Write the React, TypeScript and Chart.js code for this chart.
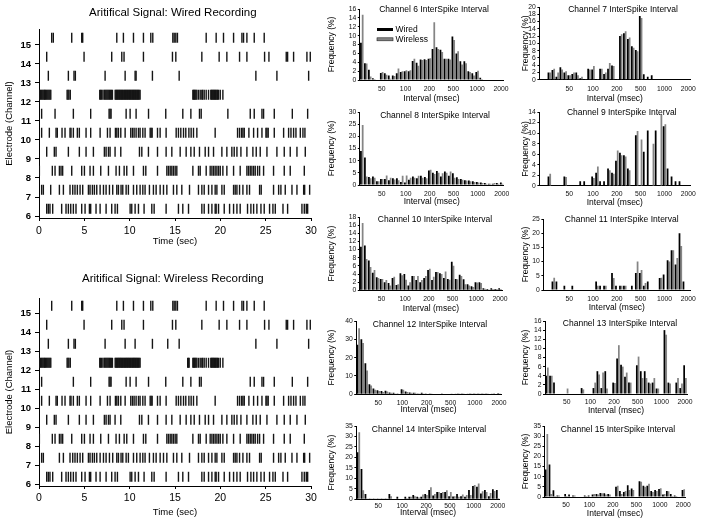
import React, { useEffect, useRef } from 'react';
import { Chart, registerables } from 'chart.js';

Chart.register(...registerables);

const FONT = "'Liberation Sans', Arial, Helvetica, sans-serif";
Chart.defaults.font.family = FONT;
Chart.defaults.color = '#000';

// ---------------- Raster data (spike times, sec) ----------------
const CHANNELS = [6, 7, 8, 9, 10, 11, 12, 13, 14, 15];

const WIRED_CH6 = [0.85, 1.03, 1.21, 1.51, 2.5, 2.98, 3.24, 3.5, 3.79, 4.08, 4.71, 5.08, 5.56, 5.7, 6.29, 6.74, 7.4, 8.02, 8.39, 8.65, 10.05, 10.23, 10.6, 10.97, 11.59, 12.44, 12.7, 14.02, 15.38, 15.86, 16.49, 17.96, 18.22, 18.7, 19.07, 19.43, 19.54, 19.8, 20.43, 21.02, 21.46, 21.83, 22.19, 23.0, 23.37, 23.67, 24.03, 24.48, 24.84, 25.43, 25.8, 26.06, 26.91, 27.42, 29.0, 29.26, 29.48, 29.63];
const WIRED_CH7 = [0.29, 0.48, 1.29, 2.25, 2.69, 3.42, 3.72, 3.97, 4.23, 4.53, 4.82, 5.45, 5.63, 5.89, 6.11, 6.37, 6.74, 7.11, 7.4, 7.77, 8.13, 8.58, 8.76, 9.05, 9.24, 9.61, 9.86, 10.42, 10.78, 11.15, 11.45, 11.7, 12.18, 12.62, 12.92, 13.36, 13.73, 14.1, 14.83, 15.2, 15.75, 16.6, 17.59, 17.96, 18.22, 18.7, 19.07, 19.43, 19.62, 20.17, 20.43, 21.46, 21.64, 21.83, 22.12, 22.49, 22.93, 23.22, 24.33, 24.51, 25.87, 26.43, 26.68, 27.16, 27.9, 28.45, 29.19, 29.3, 29.85];
const WIRELESS_CH7 = [0.29, 0.48, 2.25, 2.69, 3.42, 3.72, 3.97, 4.23, 4.53, 4.82, 5.45, 5.63, 5.89, 6.11, 6.37, 6.74, 7.11, 7.4, 7.77, 8.13, 8.58, 8.76, 9.05, 9.24, 9.61, 9.86, 10.42, 10.78, 11.15, 11.45, 11.7, 12.18, 12.62, 12.92, 13.36, 13.73, 14.1, 14.83, 15.2, 15.75, 16.6, 17.59, 17.96, 18.22, 18.7, 19.07, 19.43, 19.62, 20.17, 20.43, 21.46, 21.64, 21.83, 22.12, 22.49, 22.93, 23.22, 24.33, 24.51, 25.87, 26.43, 26.68, 27.16, 27.9, 28.45, 29.19, 29.3, 29.85];
const WIRED_CH8 = [0.04, 1.47, 1.77, 2.25, 2.43, 2.61, 3.61, 4.71, 5.01, 5.63, 6.0, 6.81, 7.66, 8.5, 8.87, 9.39, 9.68, 10.42, 11.52, 11.78, 13.07, 14.1, 14.28, 14.47, 14.65, 14.83, 15.02, 15.2, 16.97, 17.59, 17.78, 18.44, 18.88, 19.07, 19.25, 19.43, 19.62, 19.8, 19.99, 20.28, 20.72, 21.46, 22.19, 22.93, 23.11, 23.3, 23.48, 23.67, 23.85, 24.11, 24.33, 24.77, 25.87, 27.05, 27.71, 29.26];
const WIRED_CH9 = [0.85, 1.69, 1.88, 3.24, 4.45, 5.19, 6.0, 7.21, 7.4, 7.66, 7.84, 8.39, 9.02, 11.08, 11.34, 12.07, 13.07, 14.02, 14.65, 15.57, 16.23, 16.75, 17.12, 17.7, 18.33, 18.7, 19.25, 20.17, 20.72, 21.27, 21.53, 21.83, 22.27, 22.93, 23.59, 23.96, 24.4, 25.14, 26.24, 27.05, 27.71, 28.45, 29.37];
const WIRED_CH10 = [0.29, 1.14, 1.88, 2.02, 2.54, 2.87, 3.42, 3.53, 3.79, 4.23, 4.45, 5.19, 5.7, 6.74, 7.55, 7.84, 8.43, 8.58, 8.76, 9.02, 9.5, 10.12, 10.31, 10.49, 10.71, 10.97, 11.15, 11.45, 11.7, 12.26, 12.37, 12.48, 13.07, 13.36, 14.02, 15.13, 15.38, 15.64, 15.94, 16.19, 16.53, 16.78, 17.04, 17.41, 19.43, 21.9, 22.12, 22.34, 22.49, 22.64, 23.15, 23.67, 24.11, 24.59, 25.03, 25.14, 25.28, 25.95, 26.98, 27.53, 27.79, 28.08, 28.34, 28.82, 29.11, 29.33];
const WIRED_CH11 = [0.29, 1.77, 3.79, 5.7, 7.73, 7.84, 7.95, 9.61, 10.05, 10.71, 12.08, 13.98, 15.86, 16.75, 17.7, 17.89, 20.83, 23.3, 23.74, 24.59, 24.77, 25.95, 27.94, 29.63];
const WIRELESS_CH11 = [0.29, 3.79, 5.7, 7.73, 7.84, 7.95, 9.61, 10.05, 10.71, 12.08, 13.98, 15.86, 16.75, 17.7, 17.89, 23.3, 23.74, 24.59, 24.77, 25.95, 27.94, 29.63];
const WIRED_CH12 = [0.05, 0.15, 0.25, 0.35, 0.45, 0.55, 0.62, 0.7, 0.8, 0.9, 1.0, 1.1, 1.2, 1.3, 3.1, 3.2, 3.3, 3.45, 6.7, 6.8, 6.9, 7.05, 7.2, 7.3, 7.4, 7.5, 7.6, 7.7, 7.8, 7.9, 8.0, 8.1, 8.4, 8.48, 8.56, 8.64, 8.72, 8.8, 8.88, 8.96, 9.04, 9.12, 9.2, 9.28, 9.36, 9.44, 9.52, 9.6, 9.68, 9.76, 9.84, 9.92, 10.0, 10.08, 10.16, 10.24, 10.32, 10.4, 10.48, 10.56, 10.64, 10.72, 10.8, 10.88, 10.96, 11.05, 11.15, 16.97, 17.05, 17.13, 17.21, 17.3, 17.41, 17.59, 17.78, 17.96, 18.05, 18.22, 18.44, 18.7, 18.95, 19.03, 19.11, 19.2, 19.28, 19.36, 19.45, 19.53, 19.62, 19.7, 19.8, 19.99, 20.28];
const WIRELESS_CH12 = [0.05, 0.15, 0.25, 0.35, 0.45, 0.55, 0.62, 0.7, 0.8, 0.9, 1.0, 1.1, 1.2, 1.3, 3.1, 3.2, 3.3, 3.45, 6.7, 6.8, 6.9, 7.05, 7.2, 7.3, 7.4, 7.5, 7.6, 7.7, 7.8, 7.9, 8.0, 8.1, 8.4, 8.48, 8.56, 8.64, 8.72, 8.8, 8.88, 8.96, 9.04, 9.12, 9.2, 9.28, 9.36, 9.44, 9.52, 9.6, 9.68, 9.76, 9.84, 9.92, 10.0, 10.08, 10.16, 10.24, 10.32, 10.4, 10.48, 10.56, 10.64, 10.72, 10.8, 10.88, 10.96, 11.05, 11.15, 16.4, 16.48, 16.56, 16.97, 17.05, 17.13, 17.21, 17.3, 17.41, 17.59, 17.78, 17.96, 18.05, 18.22, 18.44, 18.7, 18.95, 19.03, 19.11, 19.2, 19.28, 19.36, 19.45, 19.53, 19.62, 19.7, 19.8, 19.99, 20.28];
const WIRED_CH13 = [1.03, 3.24, 3.86, 4.01, 7.29, 9.5, 10.6, 10.71, 12.51, 15.46, 23.92, 26.24, 29.74];
const WIRELESS_CH13 = [1.03, 3.24, 3.86, 4.01, 7.29, 9.5, 10.6, 12.51, 14.2, 15.46, 23.92, 26.24, 29.74];
const WIRED_CH14 = [0.85, 4.97, 8.02, 9.13, 9.38, 11.52, 14.72, 15.09, 17.96, 19.87, 20.72, 22.12, 22.93, 24.88, 25.36, 27.27, 27.42, 28.08, 29.55, 29.92];
const WIRED_CH15 = [1.4, 1.58, 3.61, 4.71, 4.82, 8.58, 9.31, 10.42, 11.52, 12.33, 12.55, 14.76, 14.91, 15.09, 15.27, 18.44, 19.54, 20.35, 21.46, 22.38, 22.56, 22.93, 23.74, 24.84];
const WIRELESS_CH15 = [1.4, 3.61, 4.71, 4.82, 8.58, 9.31, 10.42, 11.52, 12.33, 12.55, 14.76, 14.91, 15.09, 15.27, 18.44, 19.54, 20.35, 21.46, 22.38, 22.56, 22.93, 23.74, 24.84];

const WIRED_SPIKES = [WIRED_CH6, WIRED_CH7, WIRED_CH8, WIRED_CH9, WIRED_CH10, WIRED_CH11, WIRED_CH12, WIRED_CH13, WIRED_CH14, WIRED_CH15];
const WIRELESS_SPIKES = [WIRED_CH6, WIRELESS_CH7, WIRED_CH8, WIRED_CH9, WIRED_CH10, WIRELESS_CH11, WIRELESS_CH12, WIRELESS_CH13, WIRED_CH14, WIRELESS_CH15];

// ---------------- ISI histogram data (frequency %) ----------------
const ISI_BIN_LABELS = ['', '', '', '', '', '', '', '50', '', '', '', '', '', '100', '', '', '', '', '', '200', '', '', '', '', '', '500', '', '', '', '', '', '1000', '', '', '', '', '', '2000'];

const CH6_WIRED = [8.4, 3.8, 2.3, 0.4, 0.1, 1.6, 1.5, 1.0, 1.0, 1.5, 1.8, 2.0, 2.0, 4.3, 3.9, 4.6, 4.7, 4.8, 7.0, 7.4, 6.8, 4.8, 4.8, 9.8, 6.0, 4.2, 4.2, 2.0, 1.5, 1.8, 0.5, 0.1, 0.1, 0.1, 0.1, 0.1];
const CH6_WIRELESS = [14.7, 3.7, 0.8, 0.2, 0.1, 1.8, 1.2, 0.3, 0.9, 2.6, 2.0, 2.2, 2.2, 4.8, 3.2, 4.5, 4.5, 4.9, 13.0, 7.0, 6.3, 4.8, 4.6, 9.0, 6.5, 3.5, 3.8, 1.8, 1.0, 2.1, 0.2, 0.1, 0.1, 0.0, 0.1, 0.0];
const CH7_WIRED = [0, 0, 2.0, 2.7, 0.8, 3.4, 2.0, 1.2, 1.6, 2.0, 0.4, 0.2, 3.0, 2.8, 0.2, 3.0, 1.6, 3.0, 3.9, 0.2, 12.0, 12.8, 11.2, 9.2, 8.2, 17.5, 1.5, 0.8, 1.2, 0.1, 0.1, 0.1, 0.1, 0.1, 0.1, 0.1, 0.1, 0.1];
const CH7_WIRELESS = [0, 0, 2.0, 3.0, 2.0, 2.8, 2.3, 1.2, 2.0, 1.2, 0.8, 0.2, 2.8, 3.8, 0.2, 3.0, 2.0, 4.6, 3.8, 0.2, 12.5, 13.3, 11.6, 8.8, 7.8, 17.0, 0.1, 0.1, 0.1, 0.1, 0.1, 0.1, 0.1, 0.1, 0.1, 0.1, 0.1, 0.1];
const CH8_WIRED = [14.0, 11.3, 3.3, 3.5, 1.5, 2.5, 2.5, 2.0, 2.8, 2.8, 1.2, 1.0, 2.2, 3.5, 2.8, 3.8, 3.3, 6.0, 5.0, 5.8, 3.5, 5.5, 3.8, 4.8, 3.2, 2.5, 2.0, 1.8, 1.5, 1.2, 1.0, 0.8, 0.5, 0.5, 0.8, 1.0];
const CH8_WIRELESS = [24.7, 3.5, 2.8, 3.0, 1.5, 2.5, 3.9, 3.0, 2.3, 2.0, 3.8, 3.9, 3.0, 3.0, 3.8, 3.0, 2.8, 6.3, 4.5, 5.0, 4.8, 5.0, 5.5, 3.0, 2.5, 2.2, 1.8, 1.5, 1.2, 1.0, 0.8, 0.5, 0.5, 0.8, 0.5, 0.5];
const CH9_WIRED = [0, 0, 1.8, 0, 0, 0, 1.8, 0, 0, 0, 0.9, 0.9, 0, 1.8, 2.5, 0.9, 0.9, 3.3, 2.5, 4.8, 6.3, 5.8, 3.3, 0, 9.6, 0, 6.5, 10.5, 0, 10.5, 0, 11.3, 3.3, 1.8, 0.9, 0.9, 0, 0];
const CH9_WIRELESS = [0, 0, 2.3, 0, 0, 0, 1.7, 0, 0, 0, 0, 0, 0, 1.5, 3.7, 0, 0, 3.0, 2.3, 6.7, 5.8, 5.6, 3.0, 0, 10.4, 8.8, 0, 0, 8.0, 0, 13.5, 11.7, 0, 0, 0, 0, 0, 0];
const CH10_WIRED = [10.7, 11.0, 7.3, 4.3, 3.2, 2.8, 2.0, 1.8, 3.0, 1.3, 4.2, 4.0, 1.2, 3.5, 2.5, 2.0, 3.0, 5.0, 2.5, 4.5, 4.2, 3.0, 2.8, 7.0, 2.8, 3.8, 2.7, 1.5, 1.0, 2.0, 2.0, 0.5, 0.3, 0.5, 0.3, 0.5];
const CH10_WIRELESS = [16.5, 7.7, 5.7, 5.0, 3.0, 2.8, 2.5, 1.2, 3.3, 1.5, 3.7, 2.6, 2.0, 3.5, 3.5, 2.5, 3.5, 5.3, 3.3, 4.5, 4.0, 4.6, 2.6, 6.0, 2.7, 3.5, 1.5, 1.2, 0.8, 1.9, 1.8, 0.4, 0.2, 0.3, 0.3, 0.3];
const CH11_WIRED = [0, 0, 3.0, 3.0, 0, 1.5, 0, 1.5, 0, 0, 0, 0, 0, 3.0, 1.5, 1.5, 0, 6.0, 1.5, 1.5, 1.5, 0, 1.5, 6.0, 6.0, 1.5, 3.0, 0, 0, 4.2, 5.5, 10.5, 14.0, 9.0, 20.0, 3.0, 0];
const CH11_WIRELESS = [0, 0, 4.3, 0, 0, 0, 0, 0, 0, 0, 0, 0, 0, 1.5, 0, 1.5, 0, 4.2, 0, 1.5, 1.5, 0, 0, 10.0, 7.0, 2.5, 0, 0, 0, 4.3, 0, 10.0, 14.0, 11.3, 15.5, 0, 0];
const CH12_WIRED = [27, 30, 17, 5.5, 3.2, 2.2, 1.8, 2.0, 1.0, 0.8, 0.5, 2.8, 1.5, 1.0, 0.8, 0.5, 0.8, 0.5, 0.5, 0.3, 0.3, 0.5, 0.3, 0.3, 0.3, 0.2, 0.2, 0.3, 0.2, 0.2, 0.2, 0.2, 0.2, 0.3, 0.5, 0.6];
const CH12_WIRELESS = [36, 28, 13, 4.8, 2.5, 1.8, 1.2, 1.5, 0.8, 0.5, 0.3, 2.5, 1.2, 0.8, 0.8, 0.5, 0.5, 0.3, 0.5, 0.3, 0.3, 0.3, 0.3, 0.2, 0.2, 0.2, 0.2, 0.2, 0.2, 0.2, 0.2, 0.2, 0.2, 0.2, 0.3, 0.5];
const CH13_WIRED = [4.0, 4.0, 2.5, 0, 0, 0, 0, 0, 0, 1.3, 0, 0, 1.3, 5.0, 1.3, 5.0, 0, 2.5, 7.8, 6.4, 3.8, 2.5, 0, 6.3, 5.0, 5.0, 2.5, 2.5, 1.2, 0, 14.0, 2.5, 0, 2.5, 1.3, 6.3];
const CH13_WIRELESS = [5.8, 4.0, 0, 0, 0, 1.2, 0, 0, 0, 1.0, 0, 0, 2.5, 4.3, 4.7, 1.2, 0, 2.4, 10.7, 6.0, 4.7, 2.5, 0, 8.2, 3.5, 3.5, 2.3, 3.5, 1.2, 0, 13.0, 2.3, 0, 3.5, 2.3, 3.5];
const CH14_WIRED = [22.5, 14.5, 2.5, 0.2, 0.2, 0.2, 0.2, 0.2, 2.5, 0, 1.2, 0, 1.2, 1.2, 2.0, 1.2, 1.2, 2.5, 4.5, 1.8, 3.5, 3.0, 3.5, 1.5, 1.3, 2.5, 1.5, 1.2, 4.5, 6.3, 6.0, 2.8, 4.5, 1.5, 4.8, 4.5];
const CH14_WIRELESS = [32.0, 4.3, 0.2, 0.2, 0.2, 0.2, 0.2, 0.2, 1.5, 0, 0.3, 0, 0.5, 1.2, 1.5, 0.8, 2.3, 2.0, 5.8, 2.5, 3.5, 3.5, 4.3, 3.5, 1.5, 1.2, 2.3, 2.0, 2.0, 6.8, 7.6, 3.8, 3.5, 3.0, 4.0, 0.5];
const CH15_WIRED = [13.5, 16.0, 3.3, 0.8, 0, 1.5, 1.2, 0.8, 0, 0, 0.8, 0.8, 1.2, 1.5, 2.0, 1.8, 1.5, 0, 5.0, 3.0, 2.5, 5.8, 4.2, 0, 7.8, 5.5, 5.5, 3.0, 3.5, 4.0, 1.2, 3.0, 1.5, 0.8, 0, 3.5];
const CH15_WIRELESS = [31.0, 1.5, 0.5, 0.8, 0, 0.5, 0, 0.8, 0, 0, 0.5, 0, 1.5, 1.2, 1.8, 1.2, 1.2, 0, 5.5, 1.5, 3.0, 3.5, 3.5, 0, 7.5, 5.0, 6.5, 2.5, 3.0, 4.3, 1.5, 2.8, 0.5, 0.5, 0, 3.8];

// ---------------- helpers ----------------
type TextItem = { text: string; x: number; y: number; size: number; align?: CanvasTextAlign; weight?: string };

function textPlugin(items: TextItem[], extra?: (ctx: CanvasRenderingContext2D) => void) {
  return {
    id: 'extraTexts',
    afterDraw(chart: any) {
      const ctx: CanvasRenderingContext2D = chart.ctx;
      ctx.save();
      ctx.fillStyle = '#000';
      ctx.textBaseline = 'middle';
      for (const it of items) {
        ctx.font = `${it.weight || 'normal'} ${it.size}px ${FONT}`;
        ctx.textAlign = it.align || 'center';
        ctx.fillText(it.text, it.x, it.y);
      }
      if (extra) extra(ctx);
      ctx.restore();
    },
  };
}

function ChartCanvas({ left, top, width, height, make }: { left: number; top: number; width: number; height: number; make: () => any }) {
  const ref = useRef<HTMLCanvasElement>(null);
  useEffect(() => {
    const chart = new Chart(ref.current as HTMLCanvasElement, make());
    return () => chart.destroy();
  }, []);
  return <canvas ref={ref} width={width} height={height} style={{ position: 'absolute', left, top, width, height }} />;
}

// ---------------- raster ----------------
type RasterSpec = {
  title: string; spikes: number[][]; top: number; height: number;
  areaTop: number; areaBottom: number; yMax: number; titleY: number; xLabelDy: number; xTitlePad: number;
};

const RASTER_LEFT_AXIS = 39;
const RASTER_WIDTH = 330;
const RASTER_RIGHT = 311;

function rasterConfig(s: RasterSpec) {
  const datasets = CHANNELS.map((ch, k) => ({
    label: 'Ch ' + ch,
    data: s.spikes[k].map((t) => ({ x: t, y: ch + 0.38 })),
    pointStyle: 'line',
    rotation: 90,
    radius: 5,
    pointHoverRadius: 5,
    borderColor: '#151515',
    backgroundColor: '#151515',
    borderWidth: 1.4,
    showLine: false,
  }));
  return {
    type: 'scatter',
    data: { datasets },
    options: {
      responsive: false,
      animation: false,
      events: [],
      layout: { padding: { left: 0, top: s.areaTop, right: RASTER_WIDTH - RASTER_RIGHT, bottom: 0 } },
      plugins: { legend: { display: false }, tooltip: { enabled: false }, title: { display: false } },
      scales: {
        x: {
          type: 'linear', min: 0, max: 30,
          ticks: { stepSize: 5, font: { size: 10.5, lineHeight: `${2 * s.xLabelDy}px` }, padding: 0, color: '#000', maxRotation: 0 },
          grid: { drawOnChartArea: false, tickLength: 3, color: '#000' },
          border: { color: '#000', width: 1 },
          title: { display: true, text: 'Time (sec)', font: { size: 9.5 }, color: '#000', padding: { top: 0, bottom: s.xTitlePad } },
          afterFit: (sc: any) => { sc.height = s.height - s.areaBottom; },
        },
        y: {
          type: 'linear', min: 5.895, max: s.yMax,
          afterBuildTicks: (sc: any) => { sc.ticks = CHANNELS.map((v) => ({ value: v })); },
          ticks: { font: { size: 9.5, weight: 'bold' }, padding: 4, color: '#000', autoSkip: false },
          grid: { drawOnChartArea: false, tickLength: 4, color: '#000' },
          border: { color: '#000', width: 1 },
          title: { display: true, text: 'Electrode (Channel)', font: { size: 9.5 }, color: '#000', padding: { top: 3.4, bottom: 0 } },
          afterFit: (sc: any) => { sc.width = RASTER_LEFT_AXIS; },
        },
      },
    },
    plugins: [textPlugin([{ text: s.title, x: 172.8, y: s.titleY, size: 11.5 }])],
  };
}

const RASTERS: RasterSpec[] = [
  { title: 'Aritifical Signal: Wired Recording', spikes: WIRED_SPIKES, top: 0, height: 250, areaTop: 29, areaBottom: 218, yMax: 15.84, titleY: 13.3, xLabelDy: 9.8, xTitlePad: 3.0 },
  { title: 'Aritifical Signal: Wireless Recording', spikes: WIRELESS_SPIKES, top: 260, height: 264, areaTop: 38, areaBottom: 226, yMax: 15.79, titleY: 19, xLabelDy: 9, xTitlePad: 5.8 },
];

// ---------------- histograms ----------------
type HistSpec = {
  title: string; wired: number[]; wireless: number[]; yMax: number; yStep: number; colLeft: number;
  area: { left: number; right: number; top: number; bottom: number };
  titleX: number; titleY: number; labelDy: number; titleDy: number; legend?: boolean;
};

const HISTS: HistSpec[] = [
  { title: 'Channel 6 InterSpike Interval', wired: CH6_WIRED, wireless: CH6_WIRELESS, yMax: 16, yStep: 2, colLeft: 325, area: { left: 359.8, right: 503, top: 9, bottom: 80 }, titleX: 434, titleY: 9.5, labelDy: 9.3, titleDy: 19, legend: true },
  { title: 'Channel 7 InterSpike Interval', wired: CH7_WIRED, wireless: CH7_WIRELESS, yMax: 20, yStep: 2, colLeft: 519, area: { left: 539.4, right: 690.3, top: 7.3, bottom: 80 }, titleX: 623, titleY: 10, labelDy: 9.3, titleDy: 19 },
  { title: 'Channel 8 InterSpike Interval', wired: CH8_WIRED, wireless: CH8_WIRELESS, yMax: 30, yStep: 5, colLeft: 325, area: { left: 359.8, right: 503.7, top: 112.3, bottom: 185.3 }, titleX: 435, titleY: 115.7, labelDy: 8.7, titleDy: 17 },
  { title: 'Channel 9 InterSpike Interval', wired: CH9_WIRED, wireless: CH9_WIRELESS, yMax: 14, yStep: 2, colLeft: 519, area: { left: 539.4, right: 690.3, top: 111.7, bottom: 185.7 }, titleX: 621.7, titleY: 112.3, labelDy: 8.6, titleDy: 17.5 },
  { title: 'Channel 10 InterSpike Interval', wired: CH10_WIRED, wireless: CH10_WIRELESS, yMax: 18, yStep: 2, colLeft: 325, area: { left: 359.8, right: 502, top: 216.7, bottom: 290 }, titleX: 435, titleY: 219, labelDy: 9.3, titleDy: 18.3 },
  { title: 'Channel 11 InterSpike Interval', wired: CH11_WIRED, wireless: CH11_WIRELESS, yMax: 25, yStep: 5, colLeft: 519, area: { left: 543.4, right: 690.3, top: 219, bottom: 290 }, titleX: 621.7, titleY: 220, labelDy: 9, titleDy: 18 },
  { title: 'Channel 12 InterSpike Interval', wired: CH12_WIRED, wireless: CH12_WIRELESS, yMax: 40, yStep: 10, colLeft: 325, area: { left: 356.2, right: 501, top: 321, bottom: 394.3 }, titleX: 430, titleY: 325, labelDy: 8.4, titleDy: 15.7 },
  { title: 'Channel 13 InterSpike Interval', wired: CH13_WIRED, wireless: CH13_WIRELESS, yMax: 16, yStep: 2, colLeft: 519, area: { left: 545, right: 687, top: 321, bottom: 394 }, titleX: 620, titleY: 324, labelDy: 8.3, titleDy: 16.7 },
  { title: 'Channel 14 InterSpike Interval', wired: CH14_WIRED, wireless: CH14_WIRELESS, yMax: 35, yStep: 5, colLeft: 325, area: { left: 356.4, right: 499.7, top: 425.7, bottom: 499 }, titleX: 429, titleY: 429.3, labelDy: 6.5, titleDy: 13.7 },
  { title: 'Channel 15 InterSpike Interval', wired: CH15_WIRED, wireless: CH15_WIRELESS, yMax: 35, yStep: 5, colLeft: 519, area: { left: 544.5, right: 685.3, top: 425.7, bottom: 496.7 }, titleX: 618, titleY: 429, labelDy: 8.3, titleDy: 16.6 },
];

const WIRED_COLOR = '#000000';
const WIRELESS_COLOR = '#858585';
const TICK_FONT = 6.8;
const AXIS_TITLE_FONT = 8.5;

function histGeometry(h: HistSpec) {
  const left = h.colLeft;
  const top = h.area.top - 6;
  const width = Math.round(h.area.right + 12 - left);
  const height = Math.round(h.area.bottom + h.titleDy + 6 - top);
  return { left, top, width, height };
}

function histConfig(h: HistSpec) {
  const g = histGeometry(h);
  const labels = ISI_BIN_LABELS.slice(ISI_BIN_LABELS.length - h.wired.length);
  const texts: TextItem[] = [{ text: h.title, x: h.titleX - g.left, y: h.titleY - g.top, size: 8.5 }];
  let extra: ((ctx: CanvasRenderingContext2D) => void) | undefined;
  if (h.legend) {
    texts.push({ text: 'Wired', x: 395.5 - g.left, y: 29.5 - g.top, size: 8.5, align: 'left' });
    texts.push({ text: 'Wireless', x: 395.5 - g.left, y: 39.3 - g.top, size: 8.5, align: 'left' });
    extra = (ctx) => {
      ctx.fillStyle = WIRED_COLOR;
      ctx.fillRect(377 - g.left, 28 - g.top, 16, 3);
      ctx.fillStyle = WIRELESS_COLOR;
      ctx.fillRect(377 - g.left, 37.8 - g.top, 16, 3);
      ctx.strokeStyle = '#222';
      ctx.lineWidth = 0.6;
      ctx.strokeRect(377 - g.left, 37.8 - g.top, 16, 3);
    };
  }
  const xAxisH = g.height - (h.area.bottom - g.top);
  return {
    type: 'bar',
    data: {
      labels,
      datasets: [
        { label: 'Wired', data: h.wired, backgroundColor: WIRED_COLOR, barPercentage: 1.0, categoryPercentage: 0.88 },
        { label: 'Wireless', data: h.wireless, backgroundColor: WIRELESS_COLOR, barPercentage: 1.0, categoryPercentage: 0.88 },
      ],
    },
    options: {
      responsive: false,
      animation: false,
      events: [],
      layout: { padding: { left: 0, top: 6, right: g.width - (h.area.right - g.left), bottom: 0 } },
      plugins: { legend: { display: false }, tooltip: { enabled: false }, title: { display: false } },
      scales: {
        x: {
          type: 'category',
          ticks: { autoSkip: false, maxRotation: 0, minRotation: 0, font: { size: TICK_FONT, lineHeight: `${(2 * h.labelDy).toFixed(1)}px` }, color: '#111', padding: 0 },
          grid: { display: true, drawOnChartArea: false, drawTicks: false },
          border: { color: '#000', width: 1 },
          title: { display: true, text: 'Interval (msec)', font: { size: AXIS_TITLE_FONT }, color: '#000', padding: { top: 0, bottom: 0.9 } },
          afterFit: (sc: any) => { sc.height = xAxisH; },
        },
        y: {
          type: 'linear', min: 0, max: h.yMax,
          ticks: { stepSize: h.yStep, autoSkip: false, font: { size: TICK_FONT }, color: '#111', padding: 1.5 },
          grid: { drawOnChartArea: false, tickLength: 2, color: '#000' },
          border: { color: '#000', width: 1 },
          title: { display: true, text: 'Frequency (%)', font: { size: AXIS_TITLE_FONT }, color: '#000', padding: { top: 1.5, bottom: 0 } },
          afterFit: (sc: any) => { sc.width = h.area.left - g.left; },
        },
      },
    },
    plugins: [textPlugin(texts, extra)],
  };
}

export default function App() {
  return (
    <div style={{ position: 'absolute', left: 0, top: 0, width: 701, height: 524, background: '#fff', overflow: 'hidden' }}>
      {RASTERS.map((r, i) => (
        <ChartCanvas key={'r' + i} left={0} top={r.top} width={RASTER_WIDTH} height={r.height} make={() => rasterConfig(r)} />
      ))}
      {HISTS.map((h, i) => {
        const g = histGeometry(h);
        return <ChartCanvas key={'h' + i} left={g.left} top={g.top} width={g.width} height={g.height} make={() => histConfig(h)} />;
      })}
    </div>
  );
}
